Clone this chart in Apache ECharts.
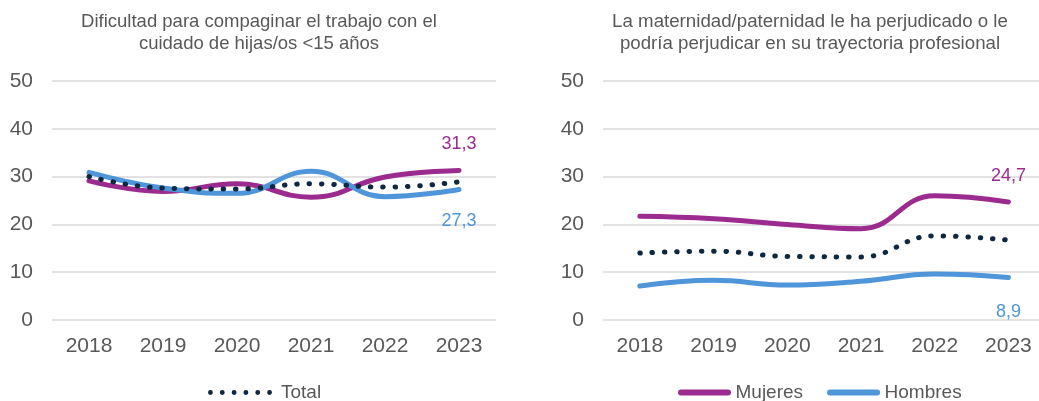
<!DOCTYPE html>
<html lang="es">
<head>
<meta charset="utf-8" />
<title>Conciliación</title>
<script src="https://cdn.jsdelivr.net/npm/echarts@6/dist/echarts.min.js"></script>
<style>
  html, body { margin: 0; padding: 0; background: #fff; }
  #chart { width: 1039px; height: 401px; }
</style>
</head>
<body>
<div id="chart"></div>
<script>
// datos
var years = ['2018', '2019', '2020', '2021', '2022', '2023'];
var yTicks = [0, 10, 20, 30, 40, 50];

// izquierda: dificultad para compaginar trabajo y cuidado
var compMujeres = [29.1, 26.9, 28.5, 25.7, 29.9, 31.3];
var compHombres = [30.9, 27.6, 26.5, 31.1, 25.8, 27.3];
var compTotal   = [30.0, 27.6, 27.4, 28.5, 27.8, 28.9];

// derecha: maternidad/paternidad perjudica trayectoria
var perjMujeres = [21.7, 21.2, 20.0, 19.1, 26.0, 24.7];
var perjHombres = [7.1, 8.3, 7.3, 8.1, 9.6, 8.9];
var perjTotal   = [14.0, 14.4, 13.3, 13.2, 17.6, 16.7];

var titles = [
  'Dificultad para compaginar el trabajo con el\ncuidado de hijas/os <15 años',
  'La maternidad/paternidad le ha perjudicado o le\npodría perjudicar en su trayectoria profesional'
];

var MORADO = '#9C2B8F', AZUL = '#4E95D9', NAVY = '#0E2841', GRIS = '#595959';
var FONT = 'Liberation Sans, Arial, sans-serif';

// iconos de leyenda
var ICON_LINEA = 'path://M3,0 L50,0 A3,3 0 0 1 50,6 L3,6 A3,3 0 0 1 3,0 Z';
var ICON_PUNTOS = (function () {
  var p = 'path://';
  for (var i = 0; i < 6; i++) {
    var cx = 3 + i * 12.6;
    p += 'M' + (cx - 2.6) + ',3 a2.6,2.6 0 1,0 5.2,0 a2.6,2.6 0 1,0 -5.2,0 ';
  }
  return p;
})();

// el gráfico derecho usa eje x de valores (la rejilla se corta en el borde)
function pares(vals, idx) {
  if (idx === 0) return vals;
  return vals.map(function (v, i) { return [i, v]; });
}

// solo el último punto lleva etiqueta
function conEtiqueta(vals, color, pos, dist) {
  return vals.map(function (v, i) {
    if (i !== vals.length - 1) return v;
    return {
      value: v,
      label: {
        show: true, position: pos, distance: dist, color: color,
        fontSize: 18, fontFamily: FONT,
        formatter: function (p) {
          var n = Array.isArray(p.value) ? p.value[1] : p.value;
          return String(n).replace('.', ',');
        }
      }
    };
  });
}

function linea(name, idx, vals, color, dotted, pos, dist) {
  var data = pares(vals, idx);
  if (pos) data = conEtiqueta(data, color, pos, dist);
  return {
    name: name, type: 'line', xAxisIndex: idx, yAxisIndex: idx,
    data: data, smooth: 0.45, symbol: 'circle', symbolSize: 0.01, silent: true,
    z: dotted ? 3 : 2,
    itemStyle: { color: color },
    lineStyle: dotted
      ? { color: color, width: 5, type: [0.5, 11.8], cap: 'round' }
      : { color: color, width: 5, cap: 'round' }
  };
}

var gridsDef = [
  { left: 52, top: 81, width: 444, height: 239 },
  { left: 603, top: 81, width: 436, height: 239 }
];

var ejeLabel = { color: GRIS, fontSize: 21, fontFamily: FONT, margin: 16 };

var option = {
  animation: false,
  backgroundColor: '#fff',
  title: titles.map(function (t, i) {
    return {
      text: t, left: i === 0 ? 254 : 805, top: 6, textAlign: 'center',
      textStyle: { color: GRIS, fontSize: i === 0 ? 18.5 : 18.7, fontWeight: 'normal', fontFamily: FONT, lineHeight: 22 }
    };
  }),
  legend: [
    {
      data: [{ name: 'Total', icon: ICON_PUNTOS, itemStyle: { color: NAVY } }],
      left: 203, top: 378, itemWidth: 64, itemHeight: 6, itemGap: 25,
      textStyle: { color: GRIS, fontSize: 19, fontFamily: FONT, padding: [0, 0, 0, 4] }
    },
    {
      data: [
        { name: 'Mujeres', icon: ICON_LINEA, itemStyle: { color: MORADO } },
        { name: 'Hombres', icon: ICON_LINEA, itemStyle: { color: AZUL } }
      ],
      left: 673, top: 378, itemWidth: 54, itemHeight: 6, itemGap: 24,
      textStyle: { color: GRIS, fontSize: 19, fontFamily: FONT, padding: [0, 0, 0, -1] }
    }
  ],
  grid: gridsDef,
  xAxis: [
    {
      type: 'category', gridIndex: 0, data: years, boundaryGap: true,
      axisLine: { show: false }, axisTick: { show: false },
      axisLabel: ejeLabel
    },
    {
      type: 'value', gridIndex: 1, min: -0.5, max: 5.415,
      axisLine: { show: false }, axisTick: { show: false }, splitLine: { show: false },
      axisLabel: Object.assign({}, ejeLabel, {
        customValues: years.map(function (y, i) { return i; }),
        formatter: function (v) { return years[Math.round(v)]; }
      })
    }
  ],
  yAxis: gridsDef.map(function (g, i) {
    return {
      type: 'value', gridIndex: i, min: yTicks[0], max: yTicks[yTicks.length - 1], interval: 10,
      axisLine: { show: false }, axisTick: { show: false },
      axisLabel: { color: GRIS, fontSize: 21, fontFamily: FONT, margin: 19 },
      splitLine: { lineStyle: { color: '#D9D9D9', width: 1.5 } }
    };
  }),
  series: [
    linea('Total', 0, compTotal, NAVY, true),
    linea('Mujeres', 0, compMujeres, MORADO, false, 'top', 17),
    linea('Hombres', 0, compHombres, AZUL, false, 'bottom', 23),
    linea('Total', 1, perjTotal, NAVY, true),
    linea('Mujeres', 1, perjMujeres, MORADO, false, 'top', 17),
    linea('Hombres', 1, perjHombres, AZUL, false, 'bottom', 26)
  ]
};

echarts.init(document.getElementById('chart'), null, { renderer: 'canvas' }).setOption(option);
</script>
</body>
</html>
